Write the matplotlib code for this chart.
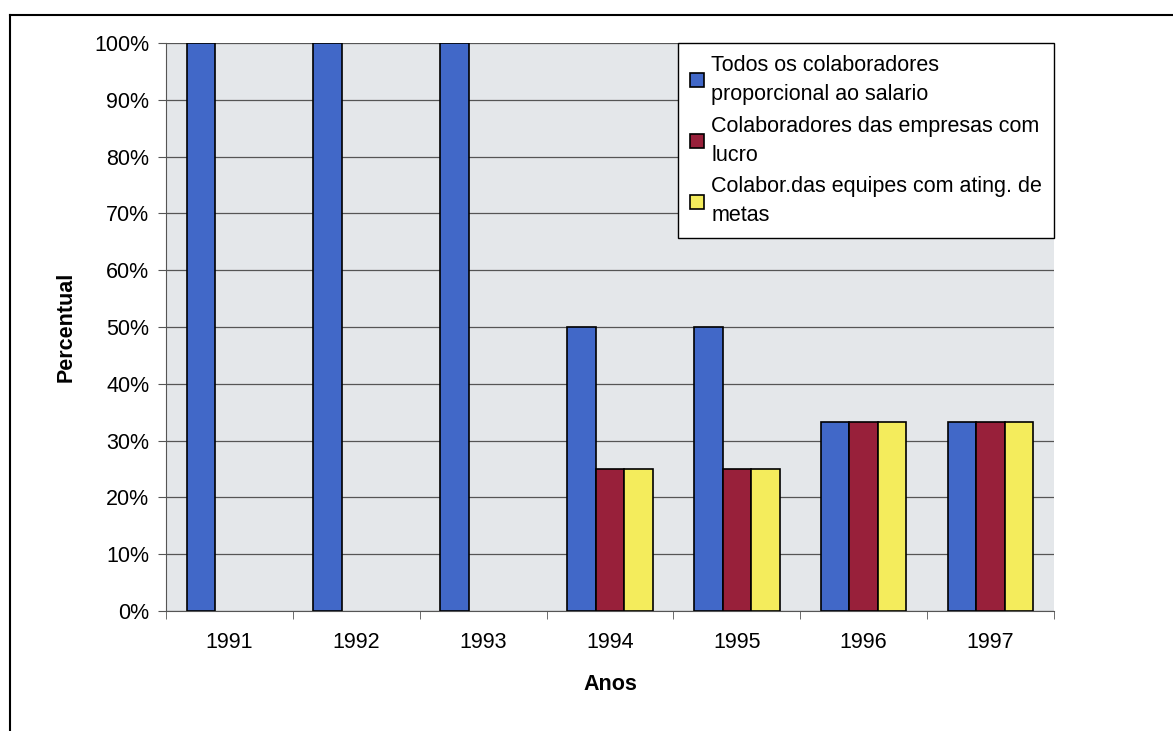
import matplotlib
matplotlib.use("Agg")
import matplotlib.pyplot as plt
from matplotlib.lines import Line2D
import numpy as np

# data
anos = ["1991", "1992", "1993", "1994", "1995", "1996", "1997"]
todos = [100, 100, 100, 50, 50, 33.3, 33.3]
empresas = [0, 0, 0, 25, 25, 33.3, 33.3]
equipes = [0, 0, 0, 25, 25, 33.3, 33.3]
labels = ["Todos os colaboradores\nproporcional ao salario",
          "Colaboradores das empresas com\nlucro",
          "Colabor.das equipes com ating. de\nmetas"]
colors = ["#4168c8", "#98203a", "#f4ec5c"]

plt.rcParams["font.family"] = ["Liberation Sans", "DejaVu Sans"]
fs = 15.5

fig = plt.figure(figsize=(11.73, 7.31), dpi=100)
ax = fig.add_axes([0.1415, 0.1642, 0.757, 0.777])
ax.set_facecolor("#e4e7ea")

x = np.arange(len(anos))
w = 0.225
series = [todos, empresas, equipes]
for i in range(3):
    vals = series[i]
    xs = [x[j] + (i - 1) * w for j in range(len(vals)) if vals[j] > 0]
    vs = [v for v in vals if v > 0]
    ax.bar(xs, vs, width=w, color=colors[i], edgecolor="black", linewidth=1.2,
           label=labels[i], zorder=3)

ax.set_xlim(-0.5, len(anos) - 0.5)
ax.set_ylim(0, 100)
ax.set_yticks(range(0, 101, 10))
ax.set_yticklabels([str(v) + "%" for v in range(0, 101, 10)], fontsize=fs)
ax.set_xticks(x)
ax.set_xticklabels(anos, fontsize=fs)
ax.set_xticks(np.arange(-0.5, len(anos), 1), minor=True)
ax.tick_params(axis="x", which="major", length=0, pad=15)
ax.tick_params(axis="x", which="minor", length=6, color="#555555", direction="out")
ax.tick_params(axis="y", length=6, color="#555555", direction="out", pad=6)
ax.yaxis.grid(True, color="#555555", linewidth=0.9, zorder=1)
ax.set_axisbelow(True)

for s in ["top", "right"]:
    ax.spines[s].set_visible(False)
ax.spines["left"].set_color("#555555")
ax.spines["bottom"].set_color("#555555")

ax.set_xlabel("Anos", fontsize=fs, fontweight="bold", labelpad=15)
ax.set_ylabel("Percentual", fontsize=fs, fontweight="bold", labelpad=13)

leg = ax.legend(loc="upper right", bbox_to_anchor=(1.0, 1.0), borderaxespad=0,
                fontsize=fs, frameon=True, fancybox=False, edgecolor="black",
                handlelength=0.65, handleheight=0.65, handletextpad=0.35,
                labelspacing=0.5, borderpad=0.55)
leg.get_frame().set_linewidth(1.0)
leg.get_frame().set_facecolor("white")
leg.get_frame().set_alpha(1)
for t in leg.get_texts():
    t.set_linespacing(1.5)

# outer frame (cut off at right and bottom)
x0 = 10 / 1173.0
y0 = 1 - 15 / 731.0
fig.add_artist(Line2D([x0, 1.0], [y0, y0], color="black", linewidth=1.5,
                      transform=fig.transFigure))
fig.add_artist(Line2D([x0, x0], [0.0, y0], color="black", linewidth=1.5,
                      transform=fig.transFigure))

fig.savefig("out.png", dpi=100)
